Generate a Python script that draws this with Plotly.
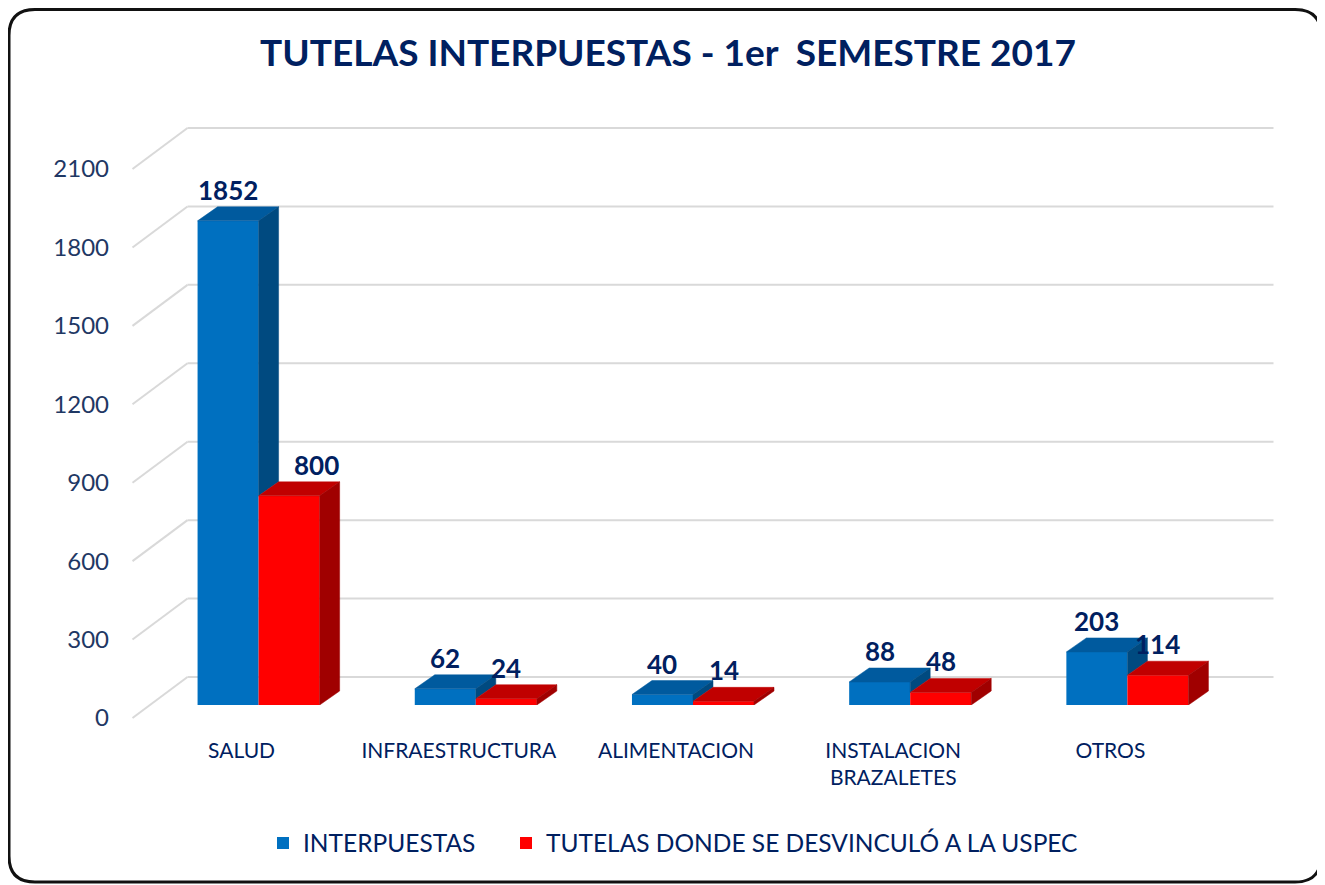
import plotly.graph_objects as go

# ---------------- data ----------------
categories = ["SALUD", "INFRAESTRUCTURA", "ALIMENTACION", "INSTALACION<br>BRAZALETES", "OTROS"]
interpuestas = [1852, 62, 40, 88, 203]
desvinculo = [800, 24, 14, 48, 114]
series_names = ["INTERPUESTAS", "TUTELAS DONDE SE DESVINCULÓ A LA USPEC"]
y_ticks = [0, 300, 600, 900, 1200, 1500, 1800, 2100]
title_text = "TUTELAS INTERPUESTAS - 1er\u00a0\u00a0SEMESTRE 2017"

# ---------------- layout geometry / style ----------------
OFF = 8                      # page body margin of the html page
W, H = 1325 - OFF, 885 - OFF
ML, MT, MB = 142, 148, 180
PW = 1086
PH = H - MT - MB
MR = W - ML - PW
YMAX = 2100
XR = (-0.5, len(categories) - 0.5)
BAR_W = 0.281

FONT = "Lato, Carlito, Calibri, sans-serif"
NAVY = "#002060"
TICK_COL = "#1F3864"
GRID_COL = "#D9D9D9"

BLUE = ("#0070C0", "#005A9E", "#004A80")   # front, top, side
RED = ("#FF0000", "#C00000", "#A00000")

DEPTH_PX = (20, 14)                 # bar depth in pixels (right, up)
FRONT_PX = (-17.5, -13)             # front wall plane offset vs bar plane
BACK_PX = (37.5, 28)                # back wall plane offset vs bar plane
LABEL_XSHIFT = {(1, 0): 27}         # (series, category) -> label x shift in px

UX = (XR[1] - XR[0]) / PW           # data units per pixel (x)
UY = YMAX / PH                      # data units per pixel (y)
DX = DEPTH_PX[0] * UX
DY = DEPTH_PX[1] * UY


def xp(xd, px=0.0):
    return (xd - XR[0]) / (XR[1] - XR[0]) + px / PW


def yp(yd, px=0.0):
    return yd / YMAX + px / PH


fig = go.Figure()
xs = list(range(len(categories)))

fig.add_trace(go.Bar(x=xs, y=interpuestas, name=series_names[0], width=BAR_W, offset=-BAR_W,
                     marker=dict(color=BLUE[0], line=dict(width=0)), hoverinfo="skip",
                     legend="legend"))
fig.add_trace(go.Bar(x=xs, y=desvinculo, name=series_names[1], width=BAR_W, offset=0,
                     marker=dict(color=RED[0], line=dict(width=0)), hoverinfo="skip",
                     legend="legend2"))


def faces(vals, offset, base_vals=None):
    top_x, top_y, side_x, side_y = [], [], [], []
    for i, v in enumerate(vals):
        l = i + offset
        r = l + BAR_W
        top_x += [l, r, r + DX, l + DX, l, None]
        top_y += [v, v, v + DY, v + DY, v, None]
        base = 0 if base_vals is None else base_vals[i]
        if base < v:
            side_x += [r, r, r + DX, r + DX, r, None]
            side_y += [base, v, v + DY, base + DY, base, None]
    return top_x, top_y, side_x, side_y


for vals, off, cols, base in [(interpuestas, -BAR_W, BLUE, desvinculo), (desvinculo, 0, RED, None)]:
    tx, ty, sx, sy = faces(vals, off, base)
    fig.add_trace(go.Scatter(x=tx, y=ty, mode="lines", fill="toself", fillcolor=cols[1],
                             line=dict(color=cols[1], width=0.5), showlegend=False, hoverinfo="skip"))
    fig.add_trace(go.Scatter(x=sx, y=sy, mode="lines", fill="toself", fillcolor=cols[2],
                             line=dict(color=cols[2], width=0.5), showlegend=False, hoverinfo="skip"))

# data labels
annotations = []
for s, (vals, off) in enumerate([(interpuestas, -BAR_W), (desvinculo, 0)]):
    for i, v in enumerate(vals):
        annotations.append(dict(x=i + off + BAR_W / 2, y=v, xref="x", yref="y", text=f"<b>{v}</b>",
                                showarrow=False, yanchor="bottom", yshift=13,
                                xshift=LABEL_XSHIFT.get((s, i), 0),
                                font=dict(family=FONT, size=26, color=NAVY)))

# walls: back gridlines + left diagonals
shapes = []
for t in y_ticks:
    shapes.append(dict(type="line", xref="paper", yref="paper",
                       x0=xp(XR[0], BACK_PX[0]), x1=xp(XR[1], BACK_PX[0]),
                       y0=yp(t, BACK_PX[1]), y1=yp(t, BACK_PX[1]),
                       line=dict(color=GRID_COL, width=2), layer="below"))
    shapes.append(dict(type="line", xref="paper", yref="paper",
                       x0=xp(XR[0], FRONT_PX[0]), x1=xp(XR[0], BACK_PX[0]),
                       y0=yp(t, FRONT_PX[1]), y1=yp(t, BACK_PX[1]),
                       line=dict(color=GRID_COL, width=2), layer="below"))

# outer rounded frame (page pixel coords)
fx0, fy0, fx1, fy1, rad = 9 - OFF, 9.5 - OFF, 1321 - OFF, 882 - OFF, 26


def P(x, y):
    a, b = (x - ML) / PW, (H - MB - y) / PH
    return f"{a:.5f},{b:.5f}"


frame_path = (f"M{P(fx0 + rad, fy0)} L{P(fx1 - rad, fy0)} Q{P(fx1, fy0)} {P(fx1, fy0 + rad)} "
              f"L{P(fx1, fy1 - rad)} Q{P(fx1, fy1)} {P(fx1 - rad, fy1)} "
              f"L{P(fx0 + rad, fy1)} Q{P(fx0, fy1)} {P(fx0, fy1 - rad)} "
              f"L{P(fx0, fy0 + rad)} Q{P(fx0, fy0)} {P(fx0 + rad, fy0)} Z")
shapes.append(dict(type="path", xref="paper", yref="paper", path=frame_path,
                   line=dict(color="#111111", width=3), layer="above"))

legend_style = dict(orientation="h", xanchor="left", yanchor="middle",
                    y=(H - MB - (843 - OFF)) / PH, bgcolor="rgba(0,0,0,0)",
                    font=dict(family=FONT, size=24.5, color=NAVY))

fig.update_layout(
    width=W, height=H,
    margin=dict(l=ML, r=MR, t=MT, b=MB, pad=0),
    paper_bgcolor="white", plot_bgcolor="white",
    barmode="overlay",
    title=dict(text=f"<b>{title_text}</b>", x=(668 - OFF) / W, xanchor="center",
               y=1 - (53 - OFF) / H, yanchor="middle",
               xref="container", yref="container", font=dict(family=FONT, size=37, color=NAVY)),
    xaxis=dict(range=list(XR), tickvals=xs, ticktext=categories, showgrid=False, zeroline=False,
               showline=False, ticks="", ticklabelshift=-17, ticklabelstandoff=31,
               tickfont=dict(family=FONT, size=21, color=NAVY), fixedrange=True),
    yaxis=dict(range=[0, YMAX], tickvals=y_ticks, showgrid=False, zeroline=False, showline=False,
               ticks="", ticklabelshift=13, ticklabelstandoff=40,
               tickfont=dict(family=FONT, size=24, color=TICK_COL), fixedrange=True),
    legend=dict(legend_style, x=(263 - OFF - ML) / PW),
    legend2=dict(legend_style, x=(506 - OFF - ML) / PW),
    shapes=shapes,
    annotations=annotations,
    showlegend=True,
)

fig.write_html("out.html")
